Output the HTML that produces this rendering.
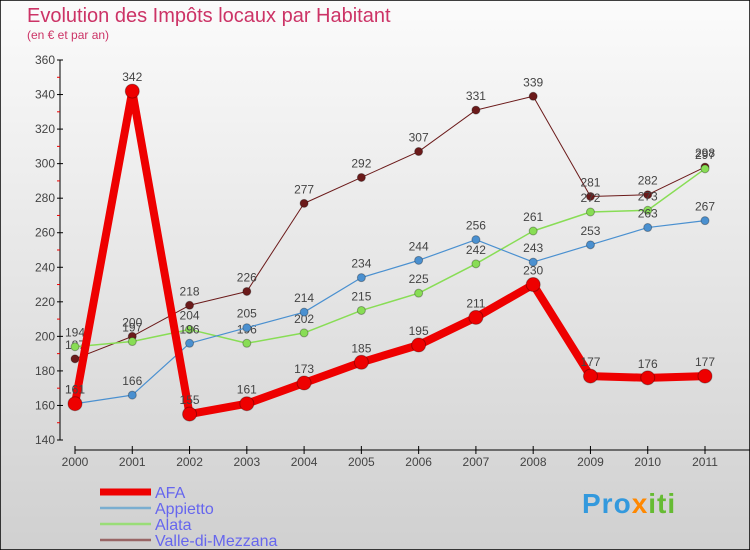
<!DOCTYPE html>
<html><head><meta charset="utf-8"><style>
body{margin:0;width:750px;height:550px;overflow:hidden;font-family:"Liberation Sans",sans-serif}
svg{display:block}
</style></head><body>
<svg width="750" height="550">
<defs><linearGradient id="bg" x1="0" y1="0" x2="0" y2="1"><stop offset="0" stop-color="#fbfbfb"/><stop offset="1" stop-color="#d0d0d0"/></linearGradient></defs>
<rect x="0" y="0" width="750" height="550" fill="url(#bg)" stroke="#000" stroke-width="1.5"/>
<text x="27" y="22" font-size="20" fill="#cc3366">Evolution des Impôts locaux par Habitant</text>
<text x="27" y="39" font-size="12" fill="#cc3366">(en € et par an)</text>
<g id="axes"></g><g id="series"></g><g id="legend"></g>
</svg>
<script>
const years=["2000","2001","2002","2003","2004","2005","2006","2007","2008","2009","2010","2011"];
const afa=[161,342,155,161,173,185,195,211,230,177,176,177];
const appietto=[161,166,196,205,214,234,244,256,243,253,263,267];
const alata=[194,197,204,196,202,215,225,242,261,272,273,297];
const valle=[187,200,218,226,277,292,307,331,339,281,282,298];
const yTicks=[140,160,180,200,220,240,260,280,300,320,340,360];
const NS="http://www.w3.org/2000/svg";
const X=i=>75+i*(630/11);
const Y=v=>440-(v-140)*(380/220);
function mk(p,t,a){const e=document.createElementNS(NS,t);for(const k in a)e.setAttribute(k,a[k]);p.appendChild(e);return e;}
const ax=document.getElementById('axes');
let l=mk(ax,'line',{x1:60,y1:60,x2:60,y2:440,stroke:'#000'});


l=mk(ax,'line',{x1:75,y1:450,x2:750,y2:450,stroke:'#000'});


yTicks.forEach(v=>{
  const y=Y(v);
  mk(ax,'line',{x1:57,y1:y,x2:63,y2:y,stroke:'#000'});
  if(v<360){const m=mk(ax,'line',{x1:57,y1:Y(v+10),x2:60,y2:Y(v+10),stroke:'#e00'});}
  const t=mk(ax,'text',{x:55,y:y+4,'font-size':12,fill:'#444','text-anchor':'end'});t.textContent=v;
  
  
});
years.forEach((yr,i)=>{
  const x=X(i);
  mk(ax,'line',{x1:x,y1:446,x2:x,y2:454,stroke:'#000'});
  const t=mk(ax,'text',{x:x,y:466,'font-size':12,fill:'#444','text-anchor':'middle'});t.textContent=yr;
  
  
});
const sg=document.getElementById('series');
const series=[
 {name:'valle',data:valle,c:'#6b1a1a',w:1,r:4},
 {name:'alata',data:alata,c:'#88dd55',w:1.5,r:4},
 {name:'appietto',data:appietto,c:'#4a90d0',w:1.2,r:4},
 {name:'afa',data:afa,c:'#ee0000',w:8,r:7}
];
series.forEach(s=>{
  const pl=mk(sg,'polyline',{points:s.data.map((v,i)=>X(i)+','+Y(v)).join(' '),fill:'none',stroke:s.c,'stroke-width':s.w,'stroke-linejoin':'round'});
  
  
  s.data.forEach((v,i)=>{
    const c=mk(sg,'circle',{cx:X(i),cy:Y(v),r:s.r,fill:s.c,stroke:'rgba(0,0,0,0.3)','stroke-width':1});
    
    
    const t=mk(sg,'text',{x:X(i),y:Y(v)-10,'font-size':12,fill:'#444','text-anchor':'middle'});t.textContent=v;
    
    
  });
});
const lg=document.getElementById('legend');
[['AFA','#ee0000',7],['Appietto','#7aaed0',2.5],['Alata','#99dd77',2.5],['Valle-di-Mezzana','#996666',2.5]].forEach((e,i)=>{
  const y=492+i*16;
  const ln=mk(lg,'line',{x1:100,y1:y,x2:151,y2:y,stroke:e[1],'stroke-width':e[2]});
  
  
  const t=mk(lg,'text',{x:155,y:y+6,'font-size':16,fill:'#6666ee'});t.textContent=e[0];
  
  
});
</script>
<div style="position:absolute;left:582px;top:488px;font:bold 28px 'Liberation Sans',sans-serif;letter-spacing:1px"><span style="color:#3399dd">Pro</span><span style="color:#ff8800">x</span><span style="color:#66bb33">iti</span></div>
</body></html>
